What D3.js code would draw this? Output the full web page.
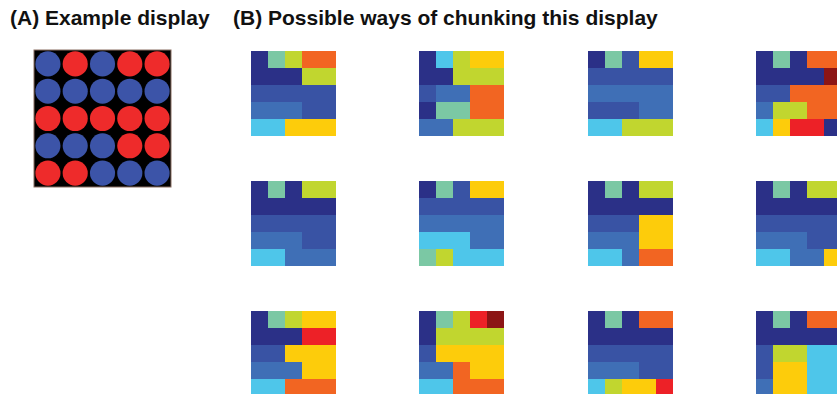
<!DOCTYPE html>
<html>
<head>
<meta charset="utf-8">
<script src="https://cdn.jsdelivr.net/npm/d3@7"></script>
<style>
  html, body { margin: 0; padding: 0; background: #fff; }
  svg { display: block; }
  .title { font-family: "Liberation Sans", Arial, sans-serif; font-weight: bold; font-size: 21px; fill: #111; }
</style>
</head>
<body>
<svg id="chart" width="837" height="394"></svg>
<script>
// Panel A: colour of each dot in the 5x5 display (b = blue, r = red)
const displayRows = ["brbrr", "bbbbb", "rrrrr", "bbbrr", "rrbbb"];

// Chunk colour keys
const chunkKeys = ["N", "B", "L", "C", "T", "G", "Y", "O", "R", "D"];
const chunkColors = ["#2b3087", "#3953a4", "#3f6fb6", "#4ec6ea", "#7bc8a4",
                     "#c1d62f", "#fdcc0b", "#f26522", "#ed2127", "#8c1515"];

// Panel B: twelve chunkings, row by row, each cell's chunk colour key
const chunking1  = ["NTGOO", "NNNGG", "BBBBB", "LLLBB", "CCYYY"];
const chunking2  = ["NCGYY", "NNGGG", "BLLOO", "NTTOO", "LLGGG"];
const chunking3  = ["NTBYY", "BBBBB", "LLLLL", "BBBLL", "CCGGG"];
const chunking4  = ["NTNOO", "NNNND", "BBOOO", "LGGOO", "CYRRN"];
const chunking5  = ["NTNGG", "NNNNN", "BBBBB", "LLLBB", "CCLLL"];
const chunking6  = ["NTBYY", "BBBBB", "LLLLL", "CCCLL", "TGCCC"];
const chunking7  = ["NTNGG", "NNNNN", "BBBYY", "LLLYY", "CCLOO"];
const chunking8  = ["NTNGG", "NNNNN", "BBBBB", "LLLBB", "CCLLY"];
const chunking9  = ["NTGYY", "NNNRR", "BBYYY", "LLLYY", "CCOOO"];
const chunking10 = ["NTGRD", "NGGGG", "BYYYY", "LLOYY", "CCOOO"];
const chunking11 = ["NTNOO", "NNNNN", "BBBBB", "LLLBB", "CGYYR"];
const chunking12 = ["NTNOO", "NNNNN", "BGGCC", "BYYCC", "LYYCC"];

const chunkings = [chunking1, chunking2, chunking3, chunking4,
                   chunking5, chunking6, chunking7, chunking8,
                   chunking9, chunking10, chunking11, chunking12];

const titleA = "(A) Example display";
const titleB = "(B) Possible ways of chunking this display";

const svg = d3.select("#chart");

svg.append("text").attr("class", "title").attr("x", 10).attr("y", 25).text(titleA);
svg.append("text").attr("class", "title").attr("x", 233).attr("y", 25).text(titleB);

// ---- Panel A ----
const idx = d3.range(5);
const dotColor = d3.scaleOrdinal().domain(["b", "r"]).range(["#3c54a8", "#ee2b2b"]);
const boxX = 34, boxY = 50, boxSize = 137;
const dotScale = d3.scaleBand().domain(idx).range([0, boxSize]).paddingOuter(0.05).paddingInner(0.08);

const gA = svg.append("g").attr("transform", `translate(${boxX},${boxY})`);
gA.append("rect").attr("width", boxSize).attr("height", boxSize)
  .attr("fill", "#000").attr("stroke", "#8a6e62").attr("stroke-width", 1);

const dots = displayRows.flatMap((row, r) => row.split("").map((c, col) => ({ r, col, c })));
gA.selectAll("circle").data(dots).join("circle")
  .attr("cx", d => dotScale(d.col) + dotScale.bandwidth() / 2)
  .attr("cy", d => dotScale(d.r) + dotScale.bandwidth() / 2)
  .attr("r", dotScale.bandwidth() / 2)
  .attr("fill", d => dotColor(d.c));

// ---- Panel B ----
const chunkColor = d3.scaleOrdinal().domain(chunkKeys).range(chunkColors);
const gridSize = 85;
const colX = d3.scalePoint().domain(d3.range(4)).range([251, 756]);
const rowY = d3.scalePoint().domain(d3.range(3)).range([51, 311]);
const cell = d3.scaleBand().domain(idx).range([0, gridSize]);

chunkings.forEach((grid, i) => {
  const g = svg.append("g")
    .attr("transform", `translate(${Math.round(colX(i % 4))},${Math.round(rowY(Math.floor(i / 4)))})`);
  const cells = grid.flatMap((row, r) => row.split("").map((k, c) => ({ r, c, k })));
  g.selectAll("rect").data(cells).join("rect")
    .attr("x", d => cell(d.c))
    .attr("y", d => cell(d.r))
    .attr("width", cell.bandwidth())
    .attr("height", cell.bandwidth())
    .attr("shape-rendering", "crispEdges")
    .attr("fill", d => chunkColor(d.k));
});
</script>
</body>
</html>
